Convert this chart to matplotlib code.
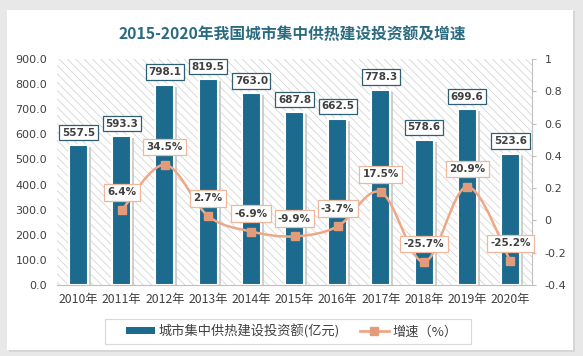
import matplotlib
matplotlib.use("Agg")
import matplotlib.pyplot as plt
import matplotlib.transforms as mtransforms
from matplotlib.patches import Rectangle
from matplotlib.path import Path
from matplotlib.patches import PathPatch
from matplotlib.lines import Line2D
from matplotlib.patches import Patch
import numpy as np

years = ["2010年", "2011年", "2012年", "2013年", "2014年", "2015年",
         "2016年", "2017年", "2018年", "2019年", "2020年"]
invest = [557.5, 593.3, 798.1, 819.5, 763.0, 687.8, 662.5, 778.3, 578.6, 699.6, 523.6]
growth_years_idx = [1, 2, 3, 4, 5, 6, 7, 8, 9, 10]
growth = [0.064, 0.345, 0.027, -0.069, -0.099, -0.037, 0.175, -0.257, 0.209, -0.252]
growth_labels = ["6.4%", "34.5%", "2.7%", "-6.9%", "-9.9%", "-3.7%", "17.5%", "-25.7%", "20.9%", "-25.2%"]
left_ticks = [0, 100, 200, 300, 400, 500, 600, 700, 800, 900]
right_ticks = [-0.4, -0.2, 0, 0.2, 0.4, 0.6, 0.8, 1.0]
right_tick_labels = ["-0.4", "-0.2", "0", "0.2", "0.4", "0.6", "0.8", "1"]

BAR = "#1c6a8d"
LINE = "#eea886"
MARK = "#e39c7a"
TXT = "#404040"
CJK = ["Noto Sans CJK SC", "DejaVu Sans"]

plt.rcParams["hatch.linewidth"] = 0.6

W, H = 583, 356
fig = plt.figure(figsize=(W / 100, H / 100), dpi=100)
fig.patch.set_facecolor("#e8e8e8")

# white panel with soft shadow
fig.patches.append(Rectangle((9 / W, 1 - 352 / H), 566 / W, 341 / H, transform=fig.transFigure,
                             facecolor="#d6d6d6", edgecolor="none", zorder=-2))
fig.patches.append(Rectangle((7 / W, 1 - 350 / H), 566 / W, 340 / H, transform=fig.transFigure,
                             facecolor="white", edgecolor="none", zorder=-1))
# legend frame
fig.patches.append(Rectangle((105 / W, 1 - 344 / H), 366 / W, 25 / H, transform=fig.transFigure,
                             facecolor="white", edgecolor="#d9d9d9", lw=0.8, zorder=-0.5))

ax = fig.add_axes([57 / W, 1 - 285 / H, 475 / W, 226 / H])
ax.set_facecolor("white")
ax.patch.set_alpha(0)
# hatched background
hatch = Rectangle((0, 0), 1, 1, transform=ax.transAxes, facecolor="none",
                  edgecolor="#d6d6d6", hatch="\\\\\\\\", linewidth=0, zorder=0)
ax.add_patch(hatch)

x = np.arange(len(years))
ax.set_xlim(-0.5, len(years) - 0.5)
ax.set_ylim(0, 900)

shadow_tr = mtransforms.offset_copy(ax.transData, fig=fig, x=3, y=-2, units="dots")
ax.bar(x, invest, width=0.44, color="#c4c4c4", alpha=0.8, transform=shadow_tr, zorder=2)
ax.bar(x, invest, width=0.44, color=BAR, edgecolor="white", linewidth=1.5, zorder=3)

for xi, v in zip(x, invest):
    ax.annotate(f"{v:.1f}", (xi, v), xytext=(0, 9), textcoords="offset points",
                ha="center", va="center", fontsize=7.5, fontweight="bold", color=TXT,
                bbox=dict(boxstyle="square,pad=0.25", fc="white", ec="#2f5f72", lw=0.9),
                zorder=6)

ax.set_yticks(left_ticks)
ax.set_yticklabels([f"{t:.1f}" for t in left_ticks], fontsize=8, color=TXT)
ax.set_xticks(x)
ax.set_xticklabels(years, fontsize=8.8, color=TXT, family=CJK)
ax.tick_params(axis="y", length=0, pad=7)
ax.tick_params(axis="x", length=0, pad=6)
for s in ["top", "right", "left"]:
    ax.spines[s].set_visible(False)
ax.spines["bottom"].set_color("#bfbfbf")

ax2 = ax.twinx()
ax2.set_ylim(-0.4, 1.0)
ax2.set_yticks(right_ticks)
ax2.set_yticklabels(right_tick_labels, fontsize=8, color=TXT)
ax2.tick_params(axis="y", length=3, color="#bfbfbf", pad=6)
for s in ["top", "left", "bottom"]:
    ax2.spines[s].set_visible(False)
ax2.spines["right"].set_color("#bfbfbf")

# smoothed line (Catmull-Rom Bezier through the data points)
gx = np.array(growth_years_idx, dtype=float)
gy = np.array(growth, dtype=float)
pts = np.column_stack([gx, gy])
verts = [pts[0]]
codes = [Path.MOVETO]
n = len(pts)
for i in range(n - 1):
    p0 = pts[i - 1] if i > 0 else pts[i]
    p1 = pts[i]
    p2 = pts[i + 1]
    p3 = pts[i + 2] if i + 2 < n else pts[i + 1]
    c1 = p1 + (p2 - p0) / 6.0
    c2 = p2 - (p3 - p1) / 6.0
    verts += [c1, c2, p2]
    codes += [Path.CURVE4] * 3
ax2.add_patch(PathPatch(Path(verts, codes), facecolor="none", edgecolor=LINE, lw=1.8, zorder=4))
ax2.plot(gx, gy, ls="none", marker="s", ms=6, color=MARK, zorder=5)

for xi, v, lab in zip(gx, gy, growth_labels):
    ax2.annotate(lab, (xi, v), xytext=(0, 12.8), textcoords="offset points",
                 ha="center", va="center", fontsize=7.5, fontweight="bold", color=TXT,
                 bbox=dict(boxstyle="square,pad=0.32", fc="white", ec="#efb89d", lw=0.9),
                 zorder=7)

fig.text(292 / W, 1 - 34 / H, "2015-2020年我国城市集中供热建设投资额及增速",
         ha="center", va="center", fontsize=11.3, fontweight="bold",
         color="#2b6b82", family=CJK)

handles = [Patch(facecolor=BAR, edgecolor="none"),
           Line2D([0], [0], color=LINE, lw=2, marker="s", ms=5.5, markerfacecolor=MARK,
                  markeredgecolor=MARK)]
leg = fig.legend(handles, ["城市集中供热建设投资额(亿元)", "增速（%）"], loc="center",
                 bbox_to_anchor=(292 / W, 1 - 331.5 / H), ncol=2, frameon=False,
                 handlelength=2.2, handleheight=0.45,
                 columnspacing=1.5, borderpad=0.3, handletextpad=0.3,
                 prop={"family": CJK, "size": 9.5})
for t in leg.get_texts():
    t.set_color(TXT)

fig.savefig("out.png", dpi=100)
